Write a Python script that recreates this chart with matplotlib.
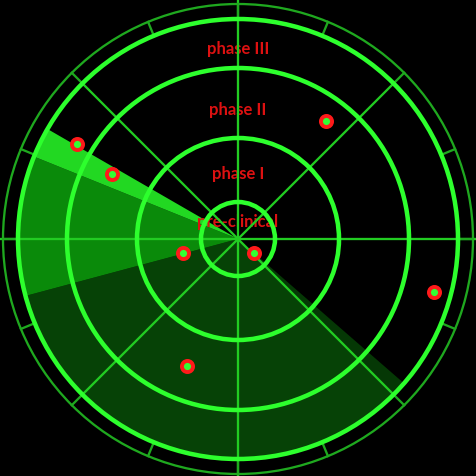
import numpy as np
import matplotlib.pyplot as plt
from matplotlib.patches import Circle, Wedge

# ring boundaries (pixels from centre) and stage labels
ring_r = [37, 101, 171, 220]
outer_r = 235
stages = ["pre-clinical", "phase I", "phase II", "phase III"]
label_r = [18, 66, 130, 191]

# projects on the radar (x, y relative to centre, y up)
pts_x = [-161, -126, 88, -55, 16, 196, -51]
pts_y = [95, 65, 118, -14, -14, -53, -127]

# sweep wedge pieces: (start deg, end deg, colour)
sweep = [
    (195, 315, "#064206"),
    (315, 319, "#053805"),
    (158, 195, "#0a8a0a"),
    (150, 158, "#22d822"),
]

px = 0.72  # pixel -> point
bright = "#2dff2d"
mid = "#22cc22"

fig = plt.figure(figsize=(4.77, 4.77), dpi=100, facecolor="black")
ax = fig.add_axes([0, 0, 1, 1])
ax.set_facecolor("black")
ax.set_xlim(-238, 239)
ax.set_ylim(-237, 240)
ax.set_aspect("equal")
ax.axis("off")

for t1, t2, c in sweep:
    ax.add_patch(Wedge((0, 0), ring_r[-1], t1, t2, color=c, lw=0, zorder=1))

for name, r in zip(stages, label_r):
    ax.text(0, r, name, color="#dd1111", fontsize=12, fontweight="bold",
            family="Lato", ha="center", va="center", zorder=2)

# axes lines across the whole picture
ax.axhline(0, color=mid, lw=2.3 * px, zorder=3)
ax.axvline(0, color=mid, lw=2.3 * px, zorder=3)

# diagonal spokes
for a in [45, 135, 225, 315]:
    t = np.radians(a)
    ax.plot([0, ring_r[-1] * np.cos(t)], [0, ring_r[-1] * np.sin(t)],
            color=mid, lw=2.3 * px, zorder=3)

# ticks in the outer band
for a in np.arange(0, 360, 22.5):
    t = np.radians(a)
    ax.plot([ring_r[-1] * np.cos(t), outer_r * np.cos(t)],
            [ring_r[-1] * np.sin(t), outer_r * np.sin(t)],
            color="#1fa81f", lw=2.3 * px, zorder=3)

for r in ring_r:
    ax.add_patch(Circle((0, 0), r, fill=False, ec=bright, lw=4.5 * px, zorder=4))
ax.add_patch(Circle((0, 0), outer_r, fill=False, ec="#1fa81f", lw=2.3 * px, zorder=4))

ax.plot(pts_x, pts_y, ls="none", marker="o", ms=8, mfc="#33ff33",
        mec="#ff1a1a", mew=2.8, zorder=5)

fig.savefig("out.png", dpi=100, facecolor="black")
